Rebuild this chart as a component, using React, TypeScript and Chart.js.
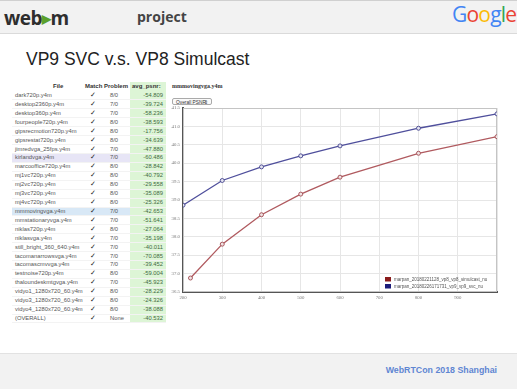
import React, { useEffect, useRef } from "react";
import { Chart, registerables } from "chart.js";

Chart.register(...registerables);

// ---------- data ----------
const files = [
  "dark720p.y4m", "desktop2360p.y4m", "desktop360p.y4m", "fourpeople720p.y4m",
  "gipsrecmotion720p.y4m", "gipsrestat720p.y4m", "jimredvga_25fps.y4m", "kirlandvga.y4m",
  "marcooffice720p.y4m", "mj1vc720p.y4m", "mj2vc720p.y4m", "mj3vc720p.y4m", "mj4vc720p.y4m",
  "mmmovingvga.y4m", "mmstationaryvga.y4m", "niklas720p.y4m", "niklasvga.y4m",
  "still_bright_360_640.y4m", "tacomanarrowsvga.y4m", "tacomascmvvga.y4m", "testnoise720p.y4m",
  "thaloundeskmtgvga.y4m", "vidyo1_1280x720_60.y4m", "vidyo3_1280x720_60.y4m",
  "vidyo4_1280x720_60.y4m", "(OVERALL)",
];
const problems = [
  "8/0", "7/0", "7/0", "8/0", "8/0", "8/0", "7/0", "7/0", "8/0", "8/0", "8/0", "8/0", "8/0",
  "7/0", "7/0", "8/0", "7/0", "7/0", "7/0", "7/0", "8/0", "7/0", "8/0", "8/0", "8/0", "None",
];
const avgPsnr = [
  "-54.809", "-39.724", "-58.236", "-38.593", "-17.756", "-34.639", "-47.880", "-60.486",
  "-28.842", "-40.792", "-29.558", "-35.089", "-25.326", "-42.653", "-51.641", "-27.064",
  "-35.198", "-40.011", "-70.085", "-39.452", "-59.004", "-45.923", "-28.229", "-24.326",
  "-38.088", "-40.532",
];

const simulcastLabel = "marpan_20180221128_vp8_vp8_simulcast_nu";
const simulcastX = [219, 300, 400, 500, 600, 800, 1000];
const simulcastY = [36.88, 37.8, 38.6, 39.16, 39.62, 40.27, 40.72];

const svcLabel = "marpan_20180226171731_vp9_vp9_svc_nu";
const svcX = [200, 300, 400, 500, 600, 800, 1000];
const svcY = [38.86, 39.53, 39.9, 40.2, 40.47, 40.95, 41.34];

const xMin = 200, xMax = 1000, xStep = 100;
const yMin = 36.5, yMax = 41.5, yStep = 0.5;

// ---------- chart ----------
function PsnrChart() {
  const ref = useRef<HTMLCanvasElement>(null);
  useEffect(() => {
    if (!ref.current) return;
    const framePlugin = {
      id: "frame",
      beforeDatasetsDraw(chart: any) {
        const { ctx, chartArea: a } = chart;
        ctx.save();
        ctx.strokeStyle = "#c4c4c4";
        ctx.lineWidth = 1;
        ctx.strokeRect(a.left + 0.5, a.top + 0.5, a.right - a.left - 1, a.bottom - a.top - 1);
        ctx.restore();
      },
    };
    const legendPlugin = {
      id: "innerLegend",
      afterDraw(chart: any) {
        const { ctx, chartArea: a } = chart;
        const boxColors = ["#8a1c1c", "#1c1c7a"];
        ctx.save();
        ctx.font = "4.5px 'Liberation Sans', Arial, sans-serif";
        ctx.textBaseline = "middle";
        chart.data.datasets.forEach((ds: any, i: number) => {
          const x = a.left + 202;
          const y = a.bottom - 13 + i * 7;
          ctx.fillStyle = boxColors[i];
          ctx.fillRect(x, y - 2, 6, 4.5);
          ctx.fillStyle = "#555";
          ctx.fillText(ds.label, x + 9, y + 0.3);
        });
        ctx.restore();
      },
    };
    const chart = new Chart(ref.current, {
      type: "line",
      data: {
        datasets: [
          {
            label: simulcastLabel,
            data: simulcastX.map((x, i) => ({ x, y: simulcastY[i] })),
            borderColor: "#b05a5f",
            backgroundColor: "#f3e6e6",
            pointBackgroundColor: "#efe2e2",
            pointBorderColor: "#a04a50",
            borderWidth: 1.3,
            pointRadius: 2,
            pointBorderWidth: 0.9,
            tension: 0,
          },
          {
            label: svcLabel,
            data: svcX.map((x, i) => ({ x, y: svcY[i] })),
            borderColor: "#4f4f9c",
            backgroundColor: "#e6e6f3",
            pointBackgroundColor: "#e4e4f0",
            pointBorderColor: "#45458f",
            borderWidth: 1.3,
            pointRadius: 2,
            pointBorderWidth: 0.9,
            tension: 0,
          },
        ],
      },
      options: {
        animation: false,
        responsive: false,
        maintainAspectRatio: false,
        layout: { padding: { top: 8, right: 8, left: 0, bottom: 0 } },
        plugins: { legend: { display: false }, tooltip: { enabled: false }, title: { display: false } },
        scales: {
          x: {
            type: "linear",
            min: xMin,
            max: xMax,
            afterFit: (s: any) => { s.height = 13; },
            ticks: {
              stepSize: xStep,
              padding: 3,
              color: "#777",
              font: { size: 4.8, family: "'Liberation Serif', serif" },
              callback: (v: any) => (v === xMax ? "" : String(v)),
              maxRotation: 0,
            },
            grid: { color: "#e6e6e6", drawTicks: false },
            border: { display: true, color: "#555", width: 2 },
          },
          y: {
            type: "linear",
            min: yMin,
            max: yMax,
            afterFit: (s: any) => { s.width = 18; },
            ticks: {
              stepSize: yStep,
              padding: 3,
              color: "#777",
              font: { size: 4.8, family: "'Liberation Serif', serif" },
              callback: (v: any) => Number(v).toFixed(1),
            },
            grid: { color: "#e6e6e6", drawTicks: false },
            border: { display: true, color: "#555", width: 2 },
          },
        },
      },
      plugins: [framePlugin, legendPlugin],
    } as any);
    return () => chart.destroy();
  }, []);
  return (
    <canvas
      ref={ref}
      width={340}
      height={205}
      style={{ position: "absolute", left: 165, top: 100, width: 340, height: 205 }}
    />
  );
}

// ---------- slide ----------
const rowTop = 95;
const rowH = 8.92;

export default function App() {
  useEffect(() => {
    document.body.style.margin = "0";
  }, []);
  const sans = "'Liberation Sans', Arial, sans-serif";
  return (
    <div
      style={{
        position: "absolute", left: 0, top: 0, width: 517, height: 389,
        background: "#fff", overflow: "hidden", fontFamily: sans,
      }}
    >
      {/* header */}
      <div
        style={{
          position: "absolute", left: 0, top: 0, width: 517, height: 32,
          background: "#f2f2f2", borderTop: "1px solid #d0d0d0", borderBottom: "1px solid #dadada",
        }}
      />
      <div style={{ position: "absolute", left: 4, top: 5, fontSize: 19, fontWeight: 700, color: "#2e2e2e", fontFamily: "'Open Sans', sans-serif", letterSpacing: -0.5 }}>
        web<span style={{ color: "#5aa02c", fontSize: 12, position: "relative", top: -2 }}>▶</span>m
      </div>
      <div style={{ position: "absolute", left: 137, top: 7, fontSize: 14, fontWeight: 700, color: "#444", fontFamily: "'Open Sans', sans-serif" }}>
        project
      </div>
      <div style={{ position: "absolute", left: 452, top: 0, fontSize: 21, fontFamily: "'Open Sans', sans-serif", letterSpacing: -0.8, whiteSpace: "nowrap" }}>
        <span style={{ color: "#4285F4" }}>G</span>
        <span style={{ color: "#EA4335" }}>o</span>
        <span style={{ color: "#FBBC05" }}>o</span>
        <span style={{ color: "#4285F4" }}>g</span>
        <span style={{ color: "#34A853" }}>l</span>
        <span style={{ color: "#EA4335" }}>e</span>
      </div>

      {/* title */}
      <div style={{ position: "absolute", left: 26, top: 49, fontSize: 17.5, color: "#222", fontFamily: sans }}>
        VP9 SVC v.s. VP8 Simulcast
      </div>

      {/* table */}
      <div style={{ position: "absolute", left: 130, top: 82, width: 36, height: 240, background: "#ddf5d6" }} />
      <div style={{ position: "absolute", left: 12, top: rowTop + 7 * rowH - rowH / 2, width: 118, height: rowH, background: "#e7e5f6" }} />
      <div style={{ position: "absolute", left: 12, top: rowTop + 13 * rowH - rowH / 2, width: 118, height: rowH, background: "#d8e8f6" }} />
      {files.map((_, i) => (
        <div key={"l" + i} style={{ position: "absolute", left: 12, top: rowTop + i * rowH + rowH / 2, width: 154, height: 0, borderTop: "1px solid #f3f3f3" }} />
      ))}
      <div style={{ position: "absolute", left: 12, top: 82, width: 154, height: 8, fontSize: 6, fontWeight: 700, color: "#333", lineHeight: "8px" }}>
        <span style={{ position: "absolute", left: 41 }}>File</span>
        <span style={{ position: "absolute", left: 73 }}>Match</span>
        <span style={{ position: "absolute", left: 92 }}>Problem</span>
        <span style={{ position: "absolute", left: 120 }}>avg_psnr:</span>
      </div>
      {files.map((f, i) => (
        <div
          key={f}
          style={{
            position: "absolute", left: 12, top: rowTop + i * rowH - 4, width: 154, height: 8,
            fontSize: 5.8, color: "#555", lineHeight: "8px", whiteSpace: "nowrap",
          }}
        >
          <span style={{ position: "absolute", left: 3 }}>{f}</span>
          <span style={{ position: "absolute", left: 78, color: "#222", fontSize: 6.5 }}>✓</span>
          <span style={{ position: "absolute", left: 98 }}>{problems[i]}</span>
          <span style={{ position: "absolute", right: 3, color: "#3f6a3f" }}>{avgPsnr[i]}</span>
        </div>
      ))}

      {/* chart */}
      <div style={{ position: "absolute", left: 172, top: 83, fontSize: 6, fontWeight: 700, color: "#333", fontFamily: "'Liberation Serif', serif" }}>
        mmmovingvga.y4m
      </div>
      <div
        style={{
          position: "absolute", left: 172, top: 98, width: 40, height: 7, border: "1px solid #aaa",
          borderRadius: 2, fontSize: 4.8, lineHeight: "7px", color: "#333", paddingLeft: 3, boxSizing: "border-box",
          background: "#fafafa",
        }}
      >
        Overall PSNR <span style={{ position: "absolute", right: 3 }}>⇕</span>
      </div>
      <PsnrChart />

      {/* footer */}
      <div style={{ position: "absolute", left: 0, top: 353, width: 517, height: 36, background: "#f2f2f2", borderTop: "1px solid #e2e2e2" }} />
      <div style={{ position: "absolute", right: 20, top: 365, fontSize: 8.8, fontWeight: 700, color: "#5f86d2" }}>
        WebRTCon 2018 Shanghai
      </div>
    </div>
  );
}
